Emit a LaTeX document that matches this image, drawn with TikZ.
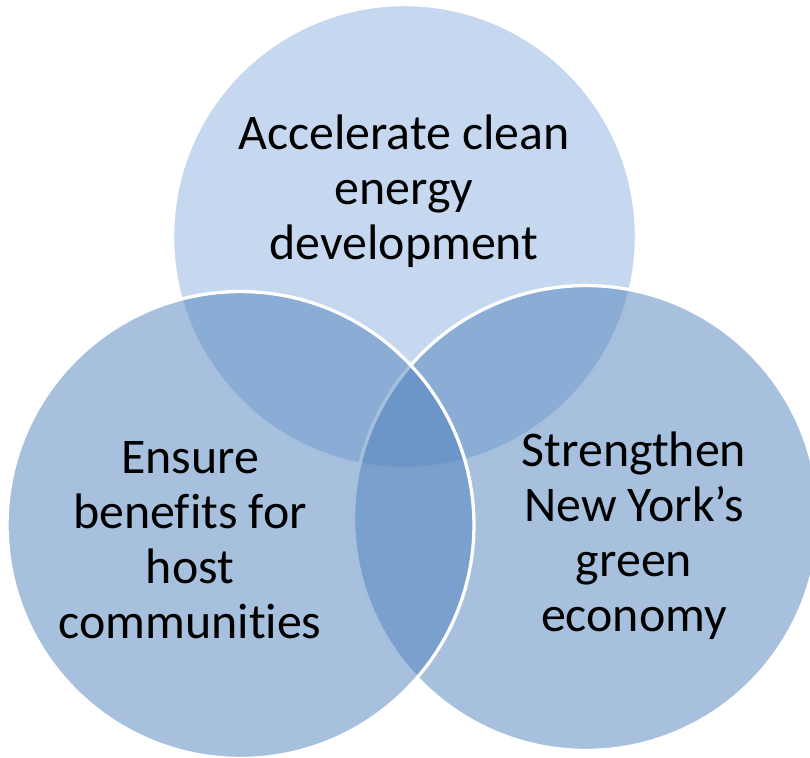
\documentclass[tikz,border=0pt]{standalone}
\usepackage{fontspec}
\setmainfont[Ligatures={NoCommon}]{Carlito}
\definecolor{topfill}{HTML}{C6D8EF}
\definecolor{accent}{HTML}{4F81BD}
\begin{document}
\begin{tikzpicture}[x=0.02cm,y=-0.02cm,
  vennbase/.style={circle,inner sep=0pt,draw=white,line width=0.066cm},
  venntop/.style={vennbase,fill=topfill},
  vennside/.style={vennbase,fill=accent,fill opacity=0.5,draw opacity=1},
  venntext/.style={align=center,text=black,inner sep=0pt,font=\fontsize{28.4}{31.3}\selectfont}]
\useasboundingbox (0,0) rectangle (810,757);
\begin{scope}
\clip (0,0) rectangle (810,757);
\node[venntop,minimum size=9.28cm] (ctop) at (404.5,236.5) {};
\node[vennside,minimum size=9.30cm] (cright) at (586,518) {};
\node[vennside,minimum size=9.34cm] (cleft) at (240.5,525) {};
\end{scope}
\node[venntext] (ttop) at (404,191) {Accelerate clean\\energy\\development};
\node[venntext] (tleft) at (190,540) {Ensure\\benefits for\\host\\communities};
\node[venntext] (tright) at (634,536) {Strengthen\\New York’s\\green\\economy};
\end{tikzpicture}
\end{document}
